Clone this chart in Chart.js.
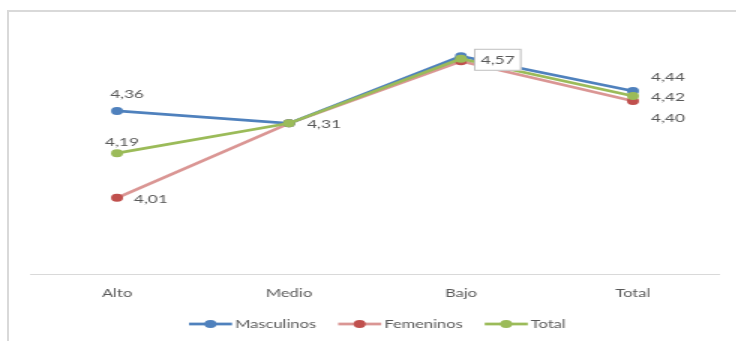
<!DOCTYPE html>
<html>
<head>
<meta charset="utf-8">
<script src="https://cdn.jsdelivr.net/npm/chart.js@4.4.1/dist/chart.umd.min.js"></script>
<style>
  html, body { margin: 0; padding: 0; background: #fff; overflow: hidden; }
  .frame {
    position: absolute; left: 7px; top: 10px; width: 760px; height: 360px;
    border-left: 2px solid #d9d9d9; border-top: 2px solid #d9d9d9;
  }
  /* chart is laid out narrow, then widened */
  #chart {
    position: absolute; left: 0; top: 0;
    transform: scaleX(1.5); transform-origin: 0 0;
  }
</style>
</head>
<body>
<div class="frame"></div>
<canvas id="chart" width="491" height="341"></canvas>
<script>
const categories = ["Alto", "Medio", "Bajo", "Total"];
const masculinos = [4.36, 4.31, 4.58, 4.44];
const femeninos = [4.01, 4.31, 4.56, 4.40];
const total = [4.19, 4.31, 4.57, 4.42];

const textColor = "#595959";
const fontFamily = "Lato, 'Open Sans', sans-serif";

// which points get a value label, and where it sits relative to the point
const masculinosLabels = [{ dx: 6.7, dy: -17, align: "center" }, null, null, { dx: 12, dy: -14, align: "left" }];
const femeninosLabels = [{ dx: 11.3, dy: 1, align: "left" }, null, null, { dx: 12, dy: 17, align: "left" }];
const totalLabels = [
  { dx: 3.3, dy: -11, align: "center" },
  { dx: 12, dy: 1, align: "left" },
  { dx: 8.7, dy: 1, align: "box" },
  { dx: 12, dy: 1, align: "left" },
];

const fmt = (v) => v.toFixed(2).replace(".", ",");

const valueLabels = {
  id: "valueLabels",
  afterDatasetsDraw(chart) {
    const c = chart.ctx;
    c.save();
    c.font = "11.5px " + fontFamily;
    c.textBaseline = "middle";
    chart.data.datasets.forEach((ds, i) => {
      const meta = chart.getDatasetMeta(i);
      (ds.valueLabels || []).forEach((lab, j) => {
        if (!lab) return;
        const pt = meta.data[j];
        const text = fmt(ds.data[j]);
        const x = pt.x + lab.dx;
        const y = pt.y + lab.dy;
        if (lab.align === "box") {
          const w = c.measureText(text).width + 9;
          c.fillStyle = "#fff";
          c.fillRect(x, y - 11, w, 22);
          c.strokeStyle = "#bfbfbf";
          c.lineWidth = 1;
          c.strokeRect(x + 0.5, y - 10.5, w - 1, 21);
          c.fillStyle = textColor;
          c.textAlign = "center";
          c.fillText(text, x + w / 2, y + 0.5);
        } else {
          c.fillStyle = textColor;
          c.textAlign = lab.align;
          c.fillText(text, x, y);
        }
      });
    });
    c.restore();
  },
};

const lineLegend = {
  id: "lineLegend",
  afterDraw(chart) {
    const c = chart.ctx;
    c.save();
    c.font = "11px " + fontFamily;
    c.textBaseline = "middle";
    c.textAlign = "left";
    let x = 126;
    const y = 324;
    chart.data.datasets.forEach((ds) => {
      c.strokeStyle = ds.borderColor;
      c.lineWidth = ds.borderWidth;
      c.beginPath();
      c.moveTo(x, y);
      c.lineTo(x + 28.7, y);
      c.stroke();
      c.fillStyle = ds.pointBackgroundColor;
      c.beginPath();
      c.arc(x + 14.3, y, 4, 0, Math.PI * 2);
      c.fill();
      c.fillStyle = textColor;
      c.fillText(ds.label, x + 30.7, y);
      x += 30.7 + c.measureText(ds.label).width + 14.7;
    });
    c.restore();
  },
};

function series(label, data, line, point, labels, order) {
  return {
    label,
    data,
    borderColor: line,
    borderWidth: 2.75,
    pointBackgroundColor: point,
    pointBorderColor: point,
    pointRadius: 4,
    pointBorderWidth: 0,
    tension: 0,
    order,
    valueLabels: labels,
  };
}

new Chart(document.getElementById("chart"), {
  type: "line",
  data: {
    labels: categories,
    datasets: [
      series("Masculinos", masculinos, "#4F81BD", "#4F81BD", masculinosLabels, 2),
      series("Femeninos", femeninos, "#DA9694", "#C0504D", femeninosLabels, 3),
      series("Total", total, "#9BBB59", "#9BBB59", totalLabels, 1),
    ],
  },
  options: {
    responsive: false,
    animation: false,
    layout: { padding: { left: 20.7, right: 11.7, top: 26.5, bottom: 29 } },
    plugins: { legend: { display: false }, tooltip: { enabled: false } },
    scales: {
      x: {
        offset: true,
        grid: { display: false, drawTicks: false },
        border: { color: "#d9d9d9", width: 1 },
        ticks: { color: textColor, font: { family: fontFamily, size: 11 }, padding: 12 },
      },
      y: { display: false, min: 3.7, max: 4.7 },
    },
  },
  plugins: [valueLabels, lineLegend],
});
</script>
</body>
</html>
